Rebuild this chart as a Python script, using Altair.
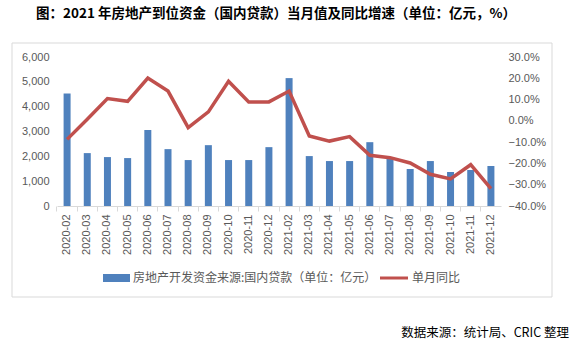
import altair as alt
import pandas as pd

months = ["2020-02", "2020-03", "2020-04", "2020-05", "2020-06", "2020-07", "2020-08",
          "2020-09", "2020-10", "2020-11", "2020-12", "2021-02", "2021-03", "2021-04",
          "2021-05", "2021-06", "2021-07", "2021-08", "2021-09", "2021-10", "2021-11", "2021-12"]
loans = [4530, 2130, 1970, 1930, 3060, 2290, 1850, 2450, 1850, 1850, 2370, 5150,
         2010, 1810, 1810, 2570, 1950, 1490, 1810, 1370, 1450, 1610]
yoy = [-8.7, 0.8, 10.5, 9.2, 20.1, 14.0, -3.2, 4.2, 18.6, 8.9, 8.9, 14.0,
       -7.1, -9.5, -7.4, -16.2, -17.3, -19.8, -25.1, -27.3, -20.6, -31.8]
left_ticks = [0, 1000, 2000, 3000, 4000, 5000, 6000]
right_ticks = [-40, -30, -20, -10, 0, 10, 20, 30]

title_text = "图：2021 年房地产到位资金（国内贷款）当月值及同比增速（单位：亿元，%）"
bar_label = "房地产开发资金来源:国内贷款（单位：亿元）"
line_label = "单月同比"
source_text = "数据来源：统计局、CRIC 整理"

df = pd.DataFrame({"month": months, "loan": loans, "yoy": yoy})
one = pd.DataFrame({"a": [0]})

LAB = "Liberation Sans"
CJK = "Noto Sans CJK SC"
GRAY = "#595959"
BLUE = "#4F81BD"
RED = "#C0504D"

x_enc = alt.X(
    "month:N", sort=months,
    scale=alt.Scale(paddingInner=0, paddingOuter=0),
    axis=alt.Axis(title=None, labelAngle=270, labelFont=LAB, labelFontSize=11,
                  labelColor=GRAY, domainColor="#d9d9d9", tickColor="#d9d9d9",
                  tickSize=5, bandPosition=0, labelPadding=3, grid=False),
)

bars = alt.Chart(df).mark_bar(size=7, color=BLUE).encode(
    x=x_enc,
    y=alt.Y("loan:Q", scale=alt.Scale(domain=[0, 6000]),
            axis=alt.Axis(title=None, values=left_ticks, format=",d", domain=False,
                          ticks=False, grid=False, labelPadding=8, labelFont=LAB,
                          labelFontSize=11, labelColor=GRAY)),
)

line = alt.Chart(df).mark_line(color=RED, strokeWidth=3.5).encode(
    x=alt.X("month:N", sort=months),
    y=alt.Y("yoy:Q", scale=alt.Scale(domain=[-40, 30]),
            axis=alt.Axis(title=None, orient="right", values=right_ticks,
                          labelExpr="format(datum.value, '.1f') + '%'",
                          domain=False, ticks=False, grid=False, labelPadding=7,
                          labelFont=LAB, labelFontSize=11, labelColor=GRAY)),
)

border = alt.Chart(one).mark_rect(fill=None, stroke="#d9d9d9", strokeWidth=1).encode(
    x=alt.value(-45), x2=alt.value(495), y=alt.value(-14), y2=alt.value(240))

title = alt.Chart(one).mark_text(text=title_text, font=CJK, fontSize=13.5, fontWeight="bold",
                                 color="#000000", align="center", baseline="middle").encode(
    x=alt.value(219), y=alt.value(-43))

leg_rect = alt.Chart(one).mark_rect(color=BLUE).encode(
    x=alt.value(46), x2=alt.value(73), y=alt.value(217), y2=alt.value(225))
leg_text1 = alt.Chart(one).mark_text(text=bar_label, font=CJK, fontSize=12, color=GRAY,
                                     align="left", baseline="middle").encode(
    x=alt.value(76), y=alt.value(221))
leg_line = alt.Chart(one).mark_rule(color=RED, strokeWidth=3).encode(
    x=alt.value(323), x2=alt.value(351), y=alt.value(221))
leg_text2 = alt.Chart(one).mark_text(text=line_label, font=CJK, fontSize=12, color=GRAY,
                                     align="left", baseline="middle").encode(
    x=alt.value(355), y=alt.value(221))

source = alt.Chart(one).mark_text(text=source_text, font=CJK, fontSize=12.5, color="#000000",
                                  align="right", baseline="middle").encode(
    x=alt.value(512), y=alt.value(276))

chart = alt.layer(
    border, bars, line, title, leg_rect, leg_text1, leg_line, leg_text2, source
).resolve_scale(y="independent").properties(
    width=444, height=149,
    autosize=alt.AutoSizeParams(type="none"),
    padding={"left": 57, "top": 57, "right": 76, "bottom": 145},
    background="white",
).configure_view(stroke=None)

chart.save("out.html", embed_options={"renderer": "svg", "actions": False})
